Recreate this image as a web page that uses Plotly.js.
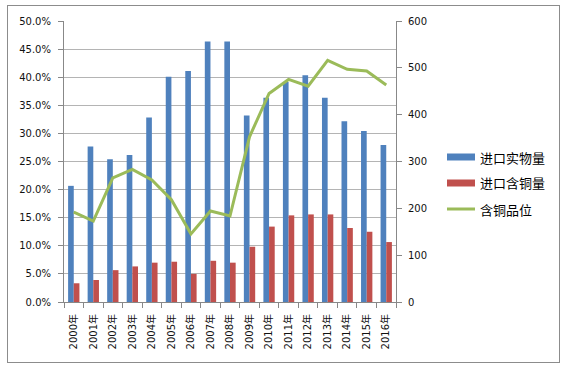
<!DOCTYPE html>
<html>
<head>
<meta charset="utf-8">
<script src="https://cdn.plot.ly/plotly-3.0.1.min.js"></script>
<style>
html,body{margin:0;padding:0;background:#fff;}
#wrap{position:relative;width:570px;height:366px;}
#chart{width:570px;height:366px;}
#frame{position:absolute;left:7px;top:5px;width:551px;height:356px;border:1px solid #8c8c8c;pointer-events:none;}
</style>
</head>
<body>
<div id="wrap"><div id="chart"></div><div id="frame"></div></div>
<script>
var years = ['2000年','2001年','2002年','2003年','2004年','2005年','2006年','2007年','2008年','2009年','2010年','2011年','2012年','2013年','2014年','2015年','2016年'];
var physical = [248, 332, 305, 314, 394, 481, 493, 556, 556, 398, 436, 470, 484, 436, 386, 365, 335];
var copperContent = [40, 47, 68, 76, 84, 86, 60, 88, 84, 118, 161, 185, 187, 187, 158, 150, 128];
var grade = [0.160, 0.144, 0.221, 0.236, 0.217, 0.182, 0.121, 0.162, 0.153, 0.294, 0.371, 0.396, 0.384, 0.430, 0.414, 0.411, 0.386];
var seriesNames = ['进口实物量','进口含铜量','含铜品位'];
var colors = ['#4F81BD','#C0504D','#9BBB59'];

var tickFont = {family:'DejaVu Sans, Noto Sans CJK SC', size:10, color:'#111'};
var traces = [
  {type:'bar', name:seriesNames[0], x:years, y:physical, yaxis:'y', marker:{color:colors[0]}, showlegend:false},
  {type:'bar', name:seriesNames[1], x:years, y:copperContent, yaxis:'y', marker:{color:colors[1]}, showlegend:false},
  {type:'scatter', mode:'lines', name:seriesNames[2], x:years, y:grade, yaxis:'y2', line:{color:colors[2], width:3}, showlegend:false}
];

// custom legend (Excel-style wide swatches)
var lx0 = 447, lx1 = 475, ltx = 478, rows = [157, 183, 209];
var W = 332, H = 281, L = 64, T = 21;
function px(x){return (x-L)/W;}
function py(y){return (T+H-y)/H;}
var shapes = [], annotations = [];
for (var i=0;i<3;i++){
  if (i<2){
    shapes.push({type:'rect', xref:'paper', yref:'paper', x0:px(lx0), x1:px(lx1), y0:py(rows[i]+3.5), y1:py(rows[i]-3.5), fillcolor:colors[i], line:{width:0}});
  } else {
    shapes.push({type:'line', xref:'paper', yref:'paper', x0:px(lx0), x1:px(lx1), y0:py(rows[i]), y1:py(rows[i]), line:{color:colors[i], width:3}});
  }
  annotations.push({xref:'paper', yref:'paper', x:px(ltx), y:py(rows[i]), xanchor:'left', yanchor:'middle', showarrow:false, text:seriesNames[i], font:{family:'Noto Sans CJK SC', size:13, color:'#000'}});
}

var layout = {
  width:570, height:366,
  margin:{l:L, r:570-L-W, t:T, b:366-T-H, pad:0},
  paper_bgcolor:'#fff', plot_bgcolor:'#fff',
  barmode:'group', bargap:0.42, bargroupgap:0,
  showlegend:false,
  xaxis:{type:'category', tickson:'boundaries', ticks:'outside', ticklen:5, tickcolor:'#888', showline:true, linecolor:'#888', linewidth:1, showgrid:false, tickangle:-90, tickfont:tickFont, ticklabelstandoff:7, fixedrange:true},
  yaxis:{side:'right', range:[0,600], dtick:100, tick0:0, ticks:'outside', ticklen:5, tickcolor:'#888', showline:true, linecolor:'#888', showgrid:false, zeroline:false, tickfont:tickFont, ticklabelstandoff:4},
  yaxis2:{side:'left', overlaying:'y', range:[0,0.5], dtick:0.05, tick0:0, tickformat:'.1%', ticks:'outside', ticklen:5, tickcolor:'#888', showline:true, linecolor:'#888', showgrid:true, gridcolor:'#b4b4b4', gridwidth:1, zeroline:false, tickfont:tickFont, ticklabelstandoff:5},
  shapes:shapes, annotations:annotations
};
Plotly.newPlot('chart', traces, layout, {staticPlot:true, displayModeBar:false});
</script>
</body>
</html>
